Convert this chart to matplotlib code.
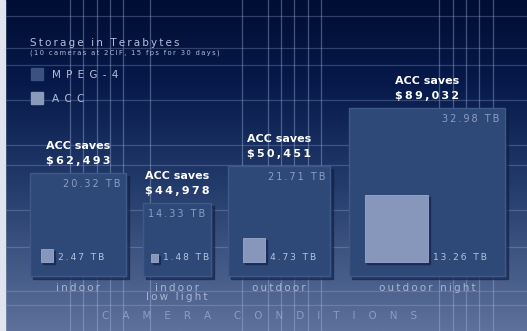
import numpy as np
import matplotlib
matplotlib.use("Agg")
import matplotlib.pyplot as plt
from matplotlib.patches import Rectangle
from matplotlib.colors import LinearSegmentedColormap

# storage per camera condition (TB) and savings
conditions = ["indoor", "indoor\nlow light", "outdoor", "outdoor night"]
mpeg4_tb = [20.32, 14.33, 21.71, 32.98]
acc_tb = [2.47, 1.48, 4.73, 13.26]
savings = [62493, 44978, 50451, 89032]


def spaced(s, sep="\u2009"):
    # widen text by putting a thin space between letters
    return "\n".join(sep.join(line) for line in s.split("\n"))


W, H = 527, 331
fig = plt.figure(figsize=(W / 100, H / 100), dpi=100)
ax = fig.add_axes([0, 0, 1, 1])
ax.set_xlim(0, W)
ax.set_ylim(H, 0)
ax.axis("off")

# background gradient, dark navy at top to slate blue at bottom
bg = LinearSegmentedColormap.from_list(
    "bg", [(0.0, "#000e33"), (0.25, "#06194a"), (0.55, "#223a6a"), (1.0, "#5d719b")])
grad = np.linspace(0, 1, 256).reshape(-1, 1)
ax.imshow(grad, cmap=bg, extent=(5, W, H, 0), aspect="auto", zorder=0)
ax.add_patch(Rectangle((0, 0), 5, H, color="#dfe4ef", zorder=1))

# decorative grid
for gx in [70, 83, 97, 110, 123, 150, 242, 268, 281, 294, 308, 321,
           439, 453, 466, 479, 493]:
    ax.plot([gx, gx], [0, H], color="#a5b8de", lw=0.9, alpha=0.4, zorder=1)
for gy in [16, 48, 65, 100, 145, 165, 210, 247, 291, 305]:
    ax.plot([5, W], [gy, gy], color="#a5b8de", lw=0.9, alpha=0.28, zorder=1)

# squares: side length proportional to TB
sx, sy = 4.72, 5.08
lefts = [30, 143, 228, 349]
inner_pad = [11, 8, 15, 16]
base = 276

for i, cond in enumerate(conditions):
    x0 = lefts[i]
    w, h = mpeg4_tb[i] * sx, mpeg4_tb[i] * sy
    top = base - h
    # shadow + outer box
    ax.add_patch(Rectangle((x0 + 3, top + 3), w, h, color="#0f1f45", alpha=0.6, zorder=2))
    ax.add_patch(Rectangle((x0, top), w, h, facecolor="#2e4878",
                           edgecolor="#3e5889", lw=1, zorder=3))
    ax.text(x0 + w - 5, top + 11, spaced(f"{mpeg4_tb[i]:.2f} TB"), color="#8d9dc2",
            fontsize=7, ha="right", va="center", zorder=5)

    # inner ACC square
    iw, ih = acc_tb[i] * sx, acc_tb[i] * sy
    ix = x0 + inner_pad[i]
    ib = base - 14
    ax.add_patch(Rectangle((ix + 2, ib - ih + 2), iw, ih, color="#142552", alpha=0.7, zorder=4))
    ax.add_patch(Rectangle((ix, ib - ih), iw, ih, facecolor="#8797bc",
                           edgecolor="#9aa9cb", lw=0.6, zorder=4))
    ax.text(ix + iw + 5, 257, spaced(f"{acc_tb[i]:.2f} TB"), color="#b7c2dc",
            fontsize=6.6, ha="left", va="center", zorder=5)

    # savings label above box
    cx = x0 + w / 2
    ax.text(cx, top - 27, "ACC saves", color="white", fontsize=8,
            fontweight="bold", ha="center", va="center", zorder=5)
    ax.text(cx, top - 12, spaced(f"${savings[i]:,}"), color="white", fontsize=8,
            fontweight="bold", ha="center", va="center", zorder=5)

    # category label
    ax.text(cx, 283, spaced(cond), color="#a9b5d2", fontsize=7.5, ha="center",
            va="top", linespacing=0.9, zorder=5)

# title and legend
ax.text(30, 43, spaced("Storage in Terabytes"), color="#b3bfd9", fontsize=7.5,
        ha="left", va="center", zorder=5)
ax.text(30, 53, spaced("(10 cameras at 2CIF, 15 fps for 30 days)"), color="#b3bfd9",
        fontsize=4.9, ha="left", va="center", zorder=5)
ax.add_patch(Rectangle((31, 68), 12, 12, color="#3c5182", zorder=5))
ax.add_patch(Rectangle((31, 92), 12, 12, color="#8a9abd", zorder=5))
ax.text(52, 75, spaced("MPEG-4", "\u2002"), color="#b3bfd9", fontsize=7.5,
        ha="left", va="center", zorder=5)
ax.text(52, 99, spaced("ACC", "\u2002"), color="#b3bfd9", fontsize=7.5,
        ha="left", va="center", zorder=5)

ax.text(260, 316, "       ".join("    ".join(word) for word in ["CAMERA", "CONDITIONS"]),
        color="#8d9cc2", fontsize=7.5, ha="center", va="center", zorder=5)

fig.savefig("out.png", dpi=100)
